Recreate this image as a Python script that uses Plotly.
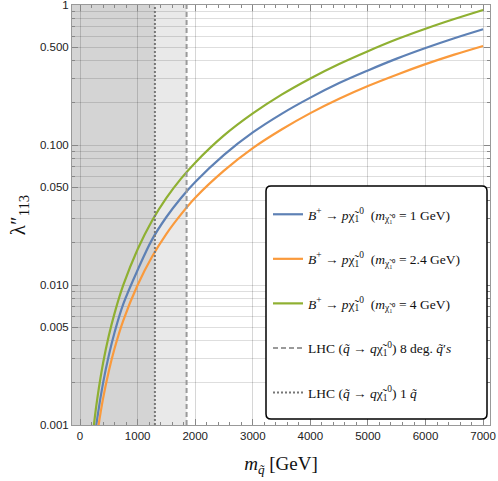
import plotly.graph_objects as go

# ---------------- data ----------------
m_grid = [250, 300, 400, 500, 600, 750, 1000, 1250, 1500, 1750, 2000, 2500, 3000,
          3500, 4000, 4500, 5000, 5500, 6000, 6500, 7000]
lam_blue = [0.00078, 0.001125, 0.0020, 0.00315, 0.0046, 0.0073, 0.0128, 0.0211, 0.0306, 0.0417, 0.0544,
            0.085, 0.1229, 0.167, 0.218, 0.277, 0.341, 0.414, 0.493, 0.579, 0.671]
lam_orange = [0.00061, 0.00087, 0.00155, 0.00243, 0.00353, 0.00557, 0.0100, 0.0159, 0.0232, 0.0318, 0.042,
              0.0656, 0.095, 0.129, 0.169, 0.214, 0.264, 0.318, 0.378, 0.442, 0.51]

m_grid_green = [200] + m_grid
lam_green = [0.00069, 0.00108, 0.00155, 0.00277, 0.00435, 0.0063, 0.00996, 0.018, 0.0288, 0.0419, 0.0573,
             0.0748, 0.117, 0.168, 0.229, 0.299, 0.379, 0.468, 0.569, 0.677, 0.794, 0.921]

lhc_8deg = 1850   # LHC limit, 8 degenerate squarks
lhc_1sq = 1300    # LHC limit, 1 squark

x_ticks = [0, 1000, 2000, 3000, 4000, 5000, 6000, 7000]
y_ticks = [0.001, 0.005, 0.01, 0.05, 0.1, 0.5, 1]
y_ticklabels = ["0.001", "0.005", "0.010", "0.050", "0.100", "0.500", "1"]

chi = "χ\u0303"
series_names = [
    f"<i>B</i><sup>+</sup> → <i>p</i>{chi}<sub>1</sub><sup>0</sup>  (<i>m</i><sub>{chi}₁⁰</sub> = 1 GeV)",
    f"<i>B</i><sup>+</sup> → <i>p</i>{chi}<sub>1</sub><sup>0</sup>  (<i>m</i><sub>{chi}₁⁰</sub> = 2.4 GeV)",
    f"<i>B</i><sup>+</sup> → <i>p</i>{chi}<sub>1</sub><sup>0</sup>  (<i>m</i><sub>{chi}₁⁰</sub> = 4 GeV)",
    f"LHC (<i>q̃</i> → <i>q</i>{chi}<sub>1</sub><sup>0</sup>) 8 deg. <i>q̃</i>′<i>s</i>",
    f"LHC (<i>q̃</i> → <i>q</i>{chi}<sub>1</sub><sup>0</sup>) 1 <i>q̃</i>",
]

# ---------------- styling ----------------
X_RANGE = [-140, 7120]
Y_MIN, Y_MAX = 0.001, 1
c_blue, c_orange, c_green = "#5E81B5", "#FA9A3C", "#8FB032"
W, H = 498, 481
ML, MR, MT, MB = 72, 8, 5, 56
PW, PH = W - ML - MR, H - MT - MB


def px2paper_x(px):
    return (px - ML) / PW


def px2paper_y(py):
    return (H - MB - py) / PH


fig = go.Figure()

# shaded excluded regions (two translucent layers)
for xr in (lhc_8deg, lhc_1sq):
    fig.add_shape(type="rect", xref="x", yref="y domain", x0=X_RANGE[0], x1=xr, y0=0, y1=1,
                  fillcolor="rgba(0,0,0,0.085)", line_width=0, layer="below")

# legend frame with rounded corners
bx0, bx1, by0, by1 = px2paper_x(266), px2paper_x(487), px2paper_y(419), px2paper_y(186)
rx, ry = 5 / PW, 5 / PH
path = (f"M {bx0+rx},{by0} L {bx1-rx},{by0} Q {bx1},{by0} {bx1},{by0+ry} "
        f"L {bx1},{by1-ry} Q {bx1},{by1} {bx1-rx},{by1} "
        f"L {bx0+rx},{by1} Q {bx0},{by1} {bx0},{by1-ry} "
        f"L {bx0},{by0+ry} Q {bx0},{by0} {bx0+rx},{by0} Z")
fig.add_shape(type="path", xref="paper", yref="paper", path=path, fillcolor="white",
              line=dict(color="black", width=1.5), layer="above")

for mx, ly, col, nm, g in [(m_grid, lam_blue, c_blue, series_names[0], "a"),
                           (m_grid, lam_orange, c_orange, series_names[1], "b"),
                           (m_grid_green, lam_green, c_green, series_names[2], "c")]:
    fig.add_trace(go.Scatter(x=mx, y=ly, mode="lines", name=nm, legendgroup=g,
                             line=dict(color=col, width=2.2, shape="spline", smoothing=1.0)))

fig.add_trace(go.Scatter(x=[lhc_8deg, lhc_8deg], y=[Y_MIN, Y_MAX], mode="lines", name=series_names[3],
                         legendgroup="d", line=dict(color="#9a9a9a", width=2, dash="5px,3px")))
fig.add_trace(go.Scatter(x=[lhc_1sq, lhc_1sq], y=[Y_MIN, Y_MAX], mode="lines", name=series_names[4],
                         legendgroup="e", line=dict(color="#777777", width=2, dash="2px,2px")))

minor_y = [k * 10.0 ** e for e in (-3, -2, -1) for k in range(2, 10) if k != 5]

tickfont = dict(family="Liberation Sans, Arial, sans-serif", size=11.5, color="#222222")
fig.update_layout(
    width=W, height=H,
    margin=dict(l=ML, r=MR, t=MT, b=MB, autoexpand=False),
    plot_bgcolor="white", paper_bgcolor="white",
    showlegend=True,
    legend=dict(x=px2paper_x(268), y=px2paper_y(199), xanchor="left", yanchor="top",
                bgcolor="rgba(0,0,0,0)", borderwidth=0,
                font=dict(family="Liberation Serif, Times New Roman, serif", size=13.5, color="#111111"),
                tracegroupgap=24, itemwidth=30),
    xaxis=dict(range=X_RANGE, tickvals=x_ticks, ticks="inside", ticklen=6, tickcolor="#888888",
               showline=True, linecolor="#999999", linewidth=1, mirror="ticks", automargin=False,
               showgrid=True, gridcolor="rgba(0,0,0,0.16)", gridwidth=1, zeroline=False,
               ticklabeloverflow="allow",
               minor=dict(dtick=200, ticks="inside", ticklen=3, tickcolor="#888888", showgrid=False),
               tickfont=tickfont,
               title=dict(text="<i>m</i><sub><i>q̃</i></sub> [GeV]", standoff=15,
                          font=dict(family="Liberation Serif, Times New Roman, serif", size=19, color="#111111"))),
    xaxis2=dict(range=X_RANGE, overlaying="x", matches="x", dtick=500, tick0=0, showgrid=True, automargin=False,
                gridcolor="rgba(0,0,0,0.10)", showticklabels=False, ticks="", showline=False, zeroline=False),
    yaxis=dict(type="log", range=[-3, 0], tickvals=y_ticks, ticktext=y_ticklabels, automargin=False,
               ticks="inside", ticklen=6, tickcolor="#888888", ticklabeloverflow="allow",
               showline=True, linecolor="#999999", linewidth=1, mirror="ticks",
               showgrid=True, gridcolor="rgba(0,0,0,0.13)", zeroline=False,
               minor=dict(tickvals=minor_y, ticks="inside", ticklen=3, tickcolor="#888888",
                          showgrid=True, gridcolor="rgba(0,0,0,0.13)"),
               tickfont=tickfont,
               title=dict(text="λ″<sub>113</sub>", standoff=8,
                          font=dict(family="Liberation Serif, Times New Roman, serif", size=21, color="#111111"))),
)

fig.write_html("out.html", post_script="document.body.style.margin='0px';",
               config={"displayModeBar": False, "staticPlot": True})
